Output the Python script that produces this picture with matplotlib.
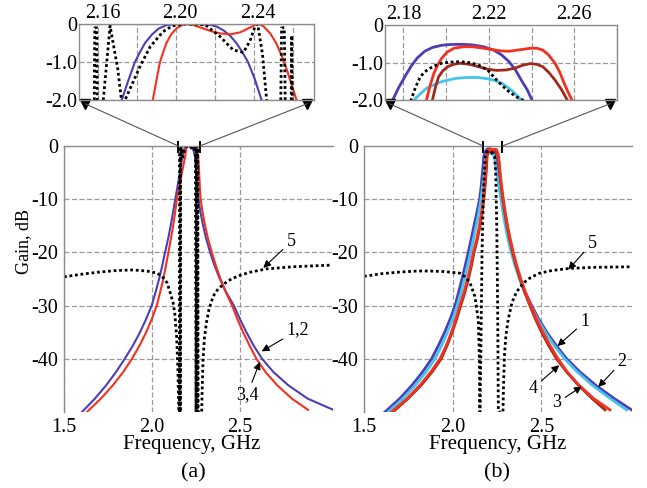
import matplotlib
matplotlib.use("Agg")
import matplotlib.pyplot as plt
from matplotlib.patches import ConnectionPatch
from matplotlib.transforms import ScaledTranslation

plt.rcParams["font.family"] = ["Liberation Serif", "DejaVu Serif"]
plt.rcParams["axes.unicode_minus"] = False

LEFT_LEVELS = [-50, -47.5, -45, -42.5, -40, -37.5, -35, -32.5, -30, -27.5,
               -25, -22.5, -20, -17.5, -15, -12.5, -10, -8, -6, -4]
RIGHT_LEVELS = [-4, -6, -8, -10, -12.5, -15, -17.5, -20, -22.5, -25,
                -27.5, -30, -32.5, -35, -37.5, -40, -42.5, -45, -47.5, -49.6]

# ---- panel (a): curves 1,2 (blue) and 3,4 (red) ----
A12_LEFT = [1.602, 1.675, 1.739, 1.795, 1.845, 1.8915, 1.932, 1.967, 1.998, 2.020,
            2.040, 2.058, 2.074, 2.091, 2.106, 2.119, 2.132, 2.143, 2.153, 2.163]
A12_PB_F = [2.172, 2.1753, 2.1788, 2.1813, 2.184, 2.1875, 2.191, 2.195, 2.200, 2.210,
            2.2175, 2.221, 2.2245, 2.228, 2.231, 2.234, 2.237, 2.2405, 2.244]
A12_PB_G = [-2, -1.5, -1.0, -0.75, -0.5, -0.28, -0.12, -0.03, 0, 0,
            -0.02, -0.07, -0.17, -0.32, -0.5, -0.73, -1.0, -1.45, -2]
A12_RIGHT = [2.2481, 2.2526, 2.2576, 2.263, 2.2754, 2.2902, 2.3082, 2.33, 2.3552, 2.3853,
             2.4215, 2.465, 2.4989, 2.536, 2.577, 2.625, 2.69, 2.775, 2.885, 3.03]

A34_LEFT = [1.630, 1.709, 1.777, 1.836, 1.886, 1.929, 1.967, 1.999, 2.027, 2.046,
            2.064, 2.079, 2.093, 2.107, 2.120, 2.131, 2.141, 2.153, 2.164, 2.176]
A34_PB_F = [2.188, 2.1898, 2.1917, 2.1933, 2.195, 2.1975, 2.2005, 2.2035, 2.2055, 2.209,
            2.213, 2.218, 2.223, 2.228, 2.233, 2.237, 2.2405, 2.2425, 2.245, 2.2485,
            2.2515, 2.2545, 2.257, 2.2595, 2.262]
A34_PB_G = [-2, -1.5, -1.0, -0.75, -0.5, -0.27, -0.1, -0.02, 0, -0.03,
            -0.1, -0.19, -0.25, -0.27, -0.22, -0.12, -0.03, 0, -0.06, -0.25,
            -0.5, -0.85, -1.2, -1.6, -2]
A34_RIGHT = [2.266, 2.269, 2.272, 2.276, 2.2872, 2.3016, 2.3184, 2.34, 2.3625, 2.3887,
             2.4193, 2.455, 2.4845, 2.5172, 2.5539, 2.593, 2.645, 2.712, 2.795, 2.886]

# curve 5 (dotted) of panel (a)
A5_F = [1.50, 1.60, 1.70, 1.80, 1.89, 1.97, 2.03, 2.065, 2.085, 2.10,
        2.12, 2.13, 2.14, 2.147, 2.152, 2.156, 2.1578, 2.1581, 2.1591, 2.1595,
        2.1605, 2.1612, 2.1625, 2.166, 2.170, 2.173, 2.1737, 2.1814, 2.1866, 2.1933,
        2.198, 2.205, 2.215, 2.2226, 2.2293, 2.2346, 2.238, 2.2406, 2.242, 2.2445,
        2.2466, 2.250, 2.2538, 2.2543, 2.2557, 2.2563, 2.2578, 2.2592, 2.2595, 2.260,
        2.262, 2.282, 2.284, 2.290, 2.298, 2.31, 2.325, 2.348, 2.375, 2.405,
        2.45, 2.50, 2.56, 2.65, 2.80, 3.01]
A5_G = [-24.6, -24.1, -23.7, -23.4, -23.3, -23.5, -23.9, -24.8, -25.7, -27.2,
        -29.5, -31.7, -36, -42, -50, -50, -2.5, -0.1, -0.1, -2.5,
        -50, -50, -2.0, -0.05, -1.2, -2.5, -2.0, -1.12, -0.6, -0.2,
        -0.05, 0, -0.02, -0.33, -0.68, -0.75, -0.45, -0.07, 0, -0.8,
        -2.0, -50, -2.5, -0.1, -0.1, -2.5, -50, -2.5, -0.3, -2.5,
        -50, -50, -47, -40, -36, -33, -30.5, -28.2, -26.9, -26.0,
        -25.0, -24.3, -23.7, -23.1, -22.7, -22.4]

# ---- panel (b): curves 1 (blue), 2 (cyan), 3 (red), 4 (dark red) ----
B1_LEFT = [1.618, 1.7006, 1.7697, 1.8294, 1.881, 1.9193, 1.9546, 1.9857, 2.013, 2.033,
           2.052, 2.070, 2.0875, 2.104, 2.1195, 2.136, 2.151, 2.159, 2.1645, 2.170]
B1_PB_F = [2.175, 2.1778, 2.1807, 2.1836, 2.1865, 2.190, 2.1936, 2.198, 2.2022, 2.207,
           2.2123, 2.2175, 2.2223, 2.226, 2.2295, 2.2325, 2.2352, 2.238, 2.2402]
B1_PB_G = [-2, -1.67, -1.38, -1.1, -0.88, -0.7, -0.6, -0.54, -0.52, -0.515,
           -0.53, -0.58, -0.67, -0.8, -0.98, -1.2, -1.47, -1.73, -2.0]
B1_RIGHT = [2.249, 2.257, 2.266, 2.276, 2.2868, 2.2993, 2.3139, 2.332, 2.3534, 2.3786,
            2.4082, 2.445, 2.4841, 2.5297, 2.5829, 2.642, 2.7177, 2.8067, 2.9113, 3.008]

B2_LEFT = [1.637, 1.7185, 1.7886, 1.8488, 1.900, 1.9375, 1.9705, 1.9997, 2.025, 2.0469,
           2.0661, 2.0832, 2.100, 2.1165, 2.132, 2.1465, 2.159, 2.167, 2.174, 2.180]
B2_PB_F = [2.185, 2.1878, 2.1908, 2.1945, 2.1979, 2.2015, 2.2051, 2.210, 2.2151, 2.219,
           2.2223, 2.226, 2.2295, 2.232, 2.2345]
B2_PB_G = [-2, -1.84, -1.69, -1.59, -1.51, -1.46, -1.42, -1.40, -1.40, -1.43,
           -1.47, -1.55, -1.69, -1.81, -1.96]
B2_RIGHT = [2.243, 2.252, 2.262, 2.272, 2.2831, 2.2962, 2.3117, 2.330, 2.3512, 2.3761,
            2.4055, 2.44, 2.4775, 2.5211, 2.5717, 2.63, 2.7028, 2.7882, 2.8884, 2.98]

B3_LEFT = [1.656, 1.742, 1.8147, 1.8761, 1.928, 1.964, 1.9925, 2.0177, 2.040, 2.0636,
           2.0837, 2.1011, 2.116, 2.1351, 2.1503, 2.1624, 2.172, 2.178, 2.183, 2.187]
B3_PB_F = [2.1908, 2.1925, 2.1943, 2.196, 2.1979, 2.2005, 2.2037, 2.208, 2.2123, 2.2165,
           2.2209, 2.2255, 2.2295, 2.2345, 2.2395, 2.2425, 2.2453, 2.248, 2.251, 2.2533,
           2.2553, 2.2572, 2.2589]
B3_PB_G = [-2, -1.62, -1.29, -1.07, -0.89, -0.72, -0.62, -0.58, -0.58, -0.61,
           -0.65, -0.69, -0.7, -0.66, -0.62, -0.62, -0.67, -0.8, -1.02, -1.27,
           -1.56, -1.8, -2]
B3_RIGHT = [2.264, 2.270, 2.277, 2.285, 2.2962, 2.309, 2.3239, 2.341, 2.3608, 2.3836,
            2.4098, 2.44, 2.472, 2.5076, 2.5485, 2.593, 2.645, 2.712, 2.795, 2.886]

B4_LEFT = [1.663, 1.7472, 1.8209, 1.8829, 1.935, 1.968, 1.997, 2.0224, 2.045, 2.0682,
           2.0881, 2.1053, 2.120, 2.1389, 2.1539, 2.1657, 2.175, 2.181, 2.186, 2.1905]
B4_PB_F = [2.1936, 2.195, 2.1965, 2.1985, 2.2008, 2.2035, 2.2065, 2.211, 2.2151, 2.2195,
           2.2237, 2.228, 2.2323, 2.236, 2.2395, 2.2425, 2.2452, 2.248, 2.251, 2.254,
           2.2567]
B4_PB_G = [-2, -1.66, -1.38, -1.22, -1.11, -1.05, -1.02, -1.05, -1.11, -1.18,
           -1.21, -1.2, -1.15, -1.07, -1.03, -1.05, -1.11, -1.26, -1.47, -1.72,
           -2]
B4_RIGHT = [2.262, 2.268, 2.275, 2.282, 2.2933, 2.306, 2.321, 2.338, 2.3573, 2.3797,
            2.4054, 2.435, 2.4655, 2.5005, 2.5402, 2.585, 2.6427, 2.7093, 2.7862, 2.858]

# curve 5 (dotted) of panel (b)
B5_F = [1.50, 1.60, 1.70, 1.80, 1.872, 1.95, 2.04, 2.07, 2.097, 2.125,
        2.144, 2.150, 2.153, 2.158, 2.165, 2.172, 2.178, 2.1836, 2.1857, 2.1879,
        2.190, 2.1922, 2.195, 2.1979, 2.202, 2.2065, 2.2095, 2.2123, 2.216, 2.2194,
        2.2237, 2.2265, 2.2295, 2.233, 2.2359, 2.242, 2.248, 2.253, 2.257, 2.283,
        2.286, 2.292, 2.300, 2.313, 2.335, 2.36, 2.40, 2.44, 2.49, 2.56,
        2.66, 2.80, 3.01]
B5_G = [-24.5, -24.0, -23.7, -23.5, -23.5, -23.6, -23.9, -24.6, -25.7, -28.3,
        -32.7, -40, -50, -40, -20, -10, -5, -2, -1.66, -1.38,
        -1.25, -1.16, -1.08, -1.02, -0.99, -0.98, -0.99, -1.02, -1.09, -1.2,
        -1.47, -1.63, -1.78, -1.92, -2, -5, -15, -30, -50, -50,
        -45, -39, -35.5, -32.5, -29.3, -27.4, -25.7, -24.7, -23.9, -23.4,
        -23.0, -22.8, -22.7]

MAIN_XTICKS = [1.5, 2.0, 2.5]
MAIN_YTICKS = [0, -10, -20, -30, -40]
A_ZOOM_TICKS = [2.16, 2.20, 2.24]
B_ZOOM_TICKS = [2.18, 2.22, 2.26]
ZOOM_YTICKS = [0, -1.0, -2.0]

BLUE = "#4b3fb5"
RED = "#f2311f"
CYAN = "#44c4ec"
DRED = "#9e2a1a"
GRID = "#9a9a9a"
EDGE = "#8c8c8c"
DOT = (0, (1, 1))

W, H = 647, 488
fig = plt.figure(figsize=(W / 100, H / 100), dpi=100)


def px_axes(x0, y0, x1, y1):
    return fig.add_axes([x0 / W, 1 - y1 / H, (x1 - x0) / W, (y1 - y0) / H])


def curve(left, pb_f, pb_g, right):
    return left + pb_f + right, LEFT_LEVELS + pb_g + RIGHT_LEVELS


def style_main(ax, xmax):
    ax.set_xlim(1.5, xmax)
    ax.set_ylim(-50, 0)
    ax.set_xticks(MAIN_XTICKS, [f"{v:.1f}" for v in MAIN_XTICKS])
    ax.set_yticks(MAIN_YTICKS, [str(v) for v in MAIN_YTICKS])
    ax.tick_params(length=0, labelsize=14.5, pad=4)
    ax.grid(True, color=GRID, lw=0.9, ls=(0, (4, 2)))
    for s in ("bottom", "right"):
        ax.spines[s].set_visible(False)
    for s in ("top", "left"):
        ax.spines[s].set_color(EDGE)
        ax.spines[s].set_linewidth(1.0)


def style_zoom(ax, xlim, ticks, label_shift=0):
    ax.set_xlim(*xlim)
    ax.set_ylim(-2.0, 0)
    ax.xaxis.tick_top()
    ax.set_xticks(ticks, [f"{v:.2f}" for v in ticks])
    ax.set_xticks([t + 0.02 for t in ticks], minor=True)
    ax.set_yticks(ZOOM_YTICKS, ["0", "-1.0", "-2.0"])
    ax.tick_params(which="both", length=0, labelsize=14.5, pad=1)
    ax.grid(True, which="both", color=GRID, lw=0.9, ls=(0, (4, 2)))
    for s in ax.spines.values():
        s.set_color(EDGE)
        s.set_linewidth(1.0)
    if label_shift:
        off = ScaledTranslation(label_shift / 100, 0, fig.dpi_scale_trans)
        for lab in ax.get_xticklabels():
            lab.set_transform(lab.get_transform() + off)


def link(ax, axz, corners):
    x0, x1 = axz.get_xlim()
    for xd, xa in zip((x0, x1), corners):
        ax.plot([xd, xd], [0.8, -1.2], color="k", lw=1.4, clip_on=False, zorder=5)
        con = ConnectionPatch(xyA=(xd, 0), coordsA=ax.transData,
                              xyB=(xa, -0.05), coordsB=axz.transAxes,
                              color="#555555", lw=0.8)
        fig.add_artist(con)
        axz.plot([xa], [-0.05], marker="v", color="k", ms=7,
                 transform=axz.transAxes, clip_on=False)


def note(ax, text, tip, pos):
    ax.annotate(text, xy=tip, xytext=pos, fontsize=13, ha="center", va="center",
                arrowprops=dict(arrowstyle="-|>", color="k", lw=0.8,
                                mutation_scale=11, shrinkA=1, shrinkB=0))


# ---- panel (a) ----
ax_a = px_axes(64, 146, 333, 412)
az_a = px_axes(79, 24, 314, 100)
a12 = curve(A12_LEFT, A12_PB_F, A12_PB_G, A12_RIGHT)
a34 = curve(A34_LEFT, A34_PB_F, A34_PB_G, A34_RIGHT)
for ax in (ax_a, az_a):
    ax.plot(*a12, color=BLUE, lw=1.5)
    ax.plot(*a34, color=RED, lw=1.5)
    ax.plot(A5_F, A5_G, color="k", lw=2.0, ls=DOT)
style_main(ax_a, 3.028)
style_zoom(az_a, (2.15, 2.271), A_ZOOM_TICKS, label_shift=4)
link(ax_a, az_a, (0.026, 0.97))
note(ax_a, "5", (2.632, -22.9), (2.79, -18.0))
note(ax_a, "1,2", (2.623, -38.6), (2.83, -34.6))
note(ax_a, "3,4", (2.612, -40.6), (2.54, -46.8))
fig.text(24 / W, 1 - 242 / H, "Gain, dB", rotation=90, ha="center", va="center",
         fontsize=13)
fig.text(192 / W, 1 - 445 / H, "Frequency, GHz", ha="center", va="center", fontsize=15)
fig.text(193 / W, 1 - 473 / H, "(a)", ha="center", va="center", fontsize=16)

# ---- panel (b) ----
ax_b = px_axes(364, 146, 632, 412)
az_b = px_axes(385, 25, 617, 100)
b1 = curve(B1_LEFT, B1_PB_F, B1_PB_G, B1_RIGHT)
b2 = curve(B2_LEFT, B2_PB_F, B2_PB_G, B2_RIGHT)
b3 = curve(B3_LEFT, B3_PB_F, B3_PB_G, B3_RIGHT)
b4 = curve(B4_LEFT, B4_PB_F, B4_PB_G, B4_RIGHT)
for ax in (ax_b, az_b):
    ax.plot(*b1, color=BLUE, lw=2.0)
    ax.plot(*b2, color=CYAN, lw=2.0)
    ax.plot(*b4, color=DRED, lw=2.0)
    ax.plot(*b3, color=RED, lw=2.0)
    ax.plot(B5_F, B5_G, color="k", lw=2.0, ls=DOT)
style_main(ax_b, 3.01)
style_zoom(az_b, (2.1714, 2.2712), B_ZOOM_TICKS)
link(ax_b, az_b, (0.02, 0.97))
note(ax_b, "5", (2.651, -23.2), (2.785, -18.3))
note(ax_b, "1", (2.59, -37.6), (2.745, -33.0))
note(ax_b, "2", (2.82, -45.3), (2.955, -40.5))
note(ax_b, "4", (2.60, -41.2), (2.454, -45.5))
note(ax_b, "3", (2.727, -45.2), (2.586, -48.3))
fig.text(498 / W, 1 - 445 / H, "Frequency, GHz", ha="center", va="center", fontsize=15)
fig.text(497 / W, 1 - 473 / H, "(b)", ha="center", va="center", fontsize=16)

fig.savefig("out.png", dpi=100)
